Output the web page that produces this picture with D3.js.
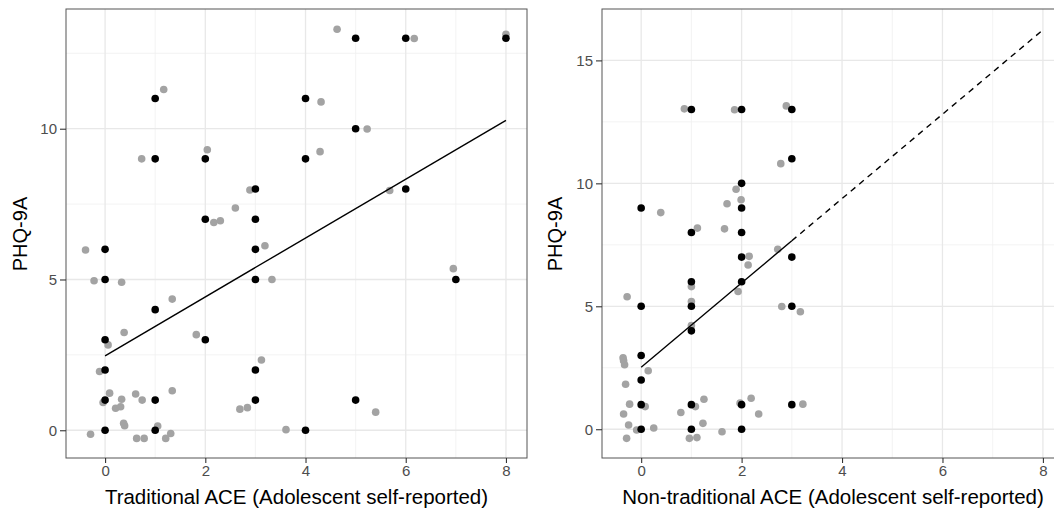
<!DOCTYPE html>
<html>
<head>
<meta charset="utf-8">
<script src="https://cdn.jsdelivr.net/npm/d3@7"></script>
<style>
  body { margin: 0; background: #fff; }
  svg { display: block; font-family: "Liberation Sans", Arial, sans-serif; }
</style>
</head>
<body>
<svg id="chart" width="1054" height="513"></svg>
<script>
// Traditional ACE panel: observed points (black) and jittered points (grey)
const tradBlack = [
  [1, 11], [1, 9], [2, 9], [3, 8], [2, 7], [3, 7], [0, 6], [3, 6], [5, 13], [6, 13],
  [8, 13], [4, 11], [5, 10], [4, 9], [6, 8], [0, 5], [3, 5], [1, 4], [0, 3], [2, 3],
  [0, 2], [3, 2], [0, 1], [1, 1], [3, 1], [0, 0], [1, 0], [7, 5], [5, 1], [4, 0]
];
const tradGrey = [
  [1.17, 11.3], [0.73, 9.0], [2.04, 9.3], [2.89, 7.97], [2.6, 7.37], [2.17, 6.89], [2.3, 6.95],
  [-0.39, 5.98], [3.19, 6.12], [4.63, 13.3], [6.17, 12.99], [8.0, 13.13], [4.31, 10.89],
  [5.23, 9.99], [4.29, 9.24], [5.68, 7.95], [-0.22, 4.96], [0.33, 4.91], [1.34, 4.35],
  [1.82, 3.17], [0.38, 3.24], [0.06, 2.83], [-0.11, 1.95], [-0.04, 0.92], [0.09, 1.23],
  [0.33, 1.03], [0.21, 0.73], [0.31, 0.78], [0.61, 1.2], [0.74, 1.0], [1.34, 1.31],
  [0.37, 0.23], [0.39, 0.15], [-0.29, -0.13], [0.63, -0.27], [0.78, -0.27], [1.05, 0.14],
  [1.21, -0.27], [1.31, -0.11], [3.33, 5.0], [3.12, 2.33], [2.69, 0.7], [2.84, 0.75],
  [6.95, 5.36], [5.4, 0.6], [3.61, 0.02]
];
// Non-traditional ACE panel
const nontradBlack = [
  [1, 13], [2, 13], [3, 13], [3, 11], [2, 10], [2, 9], [0, 9], [1, 8], [2, 8], [2, 7],
  [3, 7], [1, 6], [2, 6], [0, 5], [1, 5], [3, 5], [1, 4], [0, 3], [0, 2], [0, 1],
  [0, 0], [1, 1], [1, 0], [2, 1], [2, 0], [3, 1]
];
const nontradGrey = [
  [0.86, 13.03], [1.86, 12.99], [2.89, 13.15], [2.78, 10.8], [1.89, 9.76], [1.99, 9.33],
  [1.71, 9.17], [0.39, 8.81], [1.12, 8.18], [1.66, 8.15], [2.15, 7.03], [2.72, 7.32],
  [2.13, 6.68], [1.0, 5.8], [1.93, 5.6], [1.0, 5.19], [-0.28, 5.39], [2.8, 4.99],
  [3.17, 4.78], [1.0, 4.22], [-0.36, 2.91], [-0.35, 2.79], [-0.33, 2.62], [0.14, 2.38],
  [-0.31, 1.83], [-0.23, 1.02], [0.08, 0.92], [-0.35, 0.62], [-0.25, 0.17], [-0.09, -0.03],
  [0.25, 0.05], [-0.29, -0.37], [1.08, 0.92], [0.79, 0.68], [1.25, 1.22], [1.23, 0.24],
  [0.96, -0.37], [1.11, -0.34], [1.61, -0.1], [1.97, 1.06], [2.19, 1.26], [2.34, 0.62],
  [3.22, 1.02]
];
// fitted lines: [intercept, slope]
const tradFit = [2.47, 0.976];
const nontradFit = [2.52, 1.715];

const xTicks = [0, 2, 4, 6, 8];
const xMinor = [1, 3, 5, 7];
const tradYTicks = [0, 5, 10];
const nontradYTicks = [0, 5, 10, 15];
const yMinor = [2.5, 7.5, 12.5];

const svg = d3.select('#chart');

function drawPanel(opts) {
  const x = d3.scaleLinear().domain(opts.xDomain).range([opts.left, opts.right]);
  const y = d3.scaleLinear().domain(opts.yDomain).range([458, 9]);
  const g = svg.append('g');

  // minor grid
  g.selectAll('.vminor').data(xMinor).enter().append('line')
    .attr('x1', d => x(d)).attr('x2', d => x(d)).attr('y1', 9).attr('y2', 458)
    .attr('stroke', '#f0f0f0').attr('stroke-width', 0.8);
  g.selectAll('.hminor').data(yMinor.filter(d => d < opts.yDomain[1])).enter().append('line')
    .attr('x1', opts.left).attr('x2', opts.right).attr('y1', d => y(d)).attr('y2', d => y(d))
    .attr('stroke', '#f0f0f0').attr('stroke-width', 0.8);
  // major grid
  g.selectAll('.vmajor').data(xTicks).enter().append('line')
    .attr('x1', d => x(d)).attr('x2', d => x(d)).attr('y1', 9).attr('y2', 458)
    .attr('stroke', '#e8e8e8').attr('stroke-width', 1.3);
  g.selectAll('.hmajor').data(opts.yTicks).enter().append('line')
    .attr('x1', opts.left).attr('x2', opts.right).attr('y1', d => y(d)).attr('y2', d => y(d))
    .attr('stroke', '#e8e8e8').attr('stroke-width', 1.3);

  // points
  g.selectAll('.grey').data(opts.grey).enter().append('circle')
    .attr('cx', d => x(d[0])).attr('cy', d => y(d[1])).attr('r', 3.8).attr('fill', '#a3a3a3');
  g.selectAll('.black').data(opts.black).enter().append('circle')
    .attr('cx', d => x(d[0])).attr('cy', d => y(d[1])).attr('r', 3.8).attr('fill', '#000');

  // regression line
  const line = d3.line().x(d => x(d)).y(d => y(opts.fit[0] + opts.fit[1] * d));
  g.append('path').attr('d', line(opts.solid))
    .attr('fill', 'none').attr('stroke', '#000').attr('stroke-width', 1.4);
  if (opts.dashed) {
    g.append('path').attr('d', line(opts.dashed))
      .attr('fill', 'none').attr('stroke', '#000').attr('stroke-width', 1.4)
      .attr('stroke-dasharray', '6,5');
  }

  // panel border
  g.append('rect').attr('x', opts.left).attr('y', 9)
    .attr('width', opts.right - opts.left).attr('height', 449)
    .attr('fill', 'none').attr('stroke', '#555').attr('stroke-width', 1);

  // axes
  const xAxis = g.append('g').attr('transform', 'translate(0,458)')
    .call(d3.axisBottom(x).tickValues(xTicks).tickSize(5).tickPadding(2).tickFormat(d3.format('d')));
  const yAxis = g.append('g').attr('transform', `translate(${opts.left},0)`)
    .call(d3.axisLeft(y).tickValues(opts.yTicks).tickSize(6).tickPadding(3).tickFormat(d3.format('d')));
  [xAxis, yAxis].forEach(a => {
    a.select('.domain').remove();
    a.selectAll('line').attr('stroke', '#333').attr('stroke-width', 1.1);
    a.selectAll('text').attr('fill', '#4d4d4d').style('font-size', '15px')
      .style('font-family', '"Liberation Sans", Arial, sans-serif');
  });

  // titles
  g.append('text').attr('x', (opts.left + opts.right) / 2).attr('y', 504)
    .attr('text-anchor', 'middle').style('font-size', '20.5px').attr('fill', '#000')
    .text(opts.xTitle);
  g.append('text')
    .attr('transform', `translate(${opts.yTitleX},234) rotate(-90)`)
    .attr('text-anchor', 'middle').style('font-size', '20px').attr('fill', '#000')
    .text('PHQ-9A');
}

drawPanel({
  left: 66, right: 527, xDomain: [-0.78, 8.42], yDomain: [-0.92, 13.97],
  yTicks: tradYTicks, grey: tradGrey, black: tradBlack, fit: tradFit,
  solid: [0, 8], dashed: null, xTitle: 'Traditional ACE (Adolescent self-reported)',
  yTitleX: 27
});
drawPanel({
  left: 602, right: 1064, xDomain: [-0.78, 8.42], yDomain: [-1.17, 17.09],
  yTicks: nontradYTicks, grey: nontradGrey, black: nontradBlack, fit: nontradFit,
  solid: [0, 3], dashed: [3, 8], xTitle: 'Non-traditional ACE (Adolescent self-reported)',
  yTitleX: 562
});
</script>
</body>
</html>
